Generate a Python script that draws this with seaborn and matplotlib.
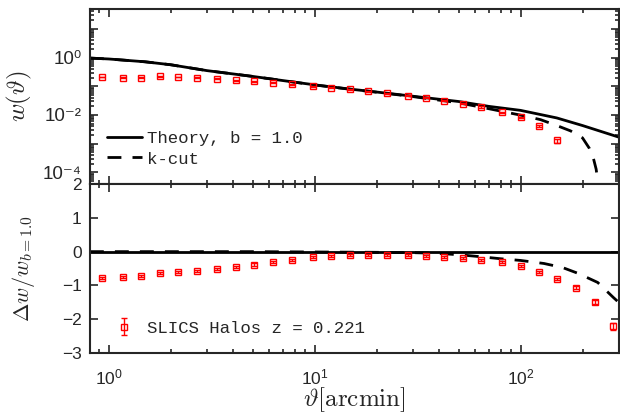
import numpy as np
import pandas as pd
import matplotlib
matplotlib.use("Agg")
import matplotlib.pyplot as plt
import seaborn as sns
from matplotlib.ticker import LogLocator, FuncFormatter, NullFormatter, FixedLocator

# ---------------- data ----------------
theta = [0.93, 1.17, 1.44, 1.78, 2.18, 2.68, 3.37, 4.16, 5.1, 6.3, 7.8, 9.8,
         12.0, 14.8, 18.2, 22.4, 28.3, 34.7, 42.7, 52.5, 64.6, 81.3, 100,
         123, 151, 186, 229, 282]
w_data = [0.21, 0.195, 0.195, 0.22, 0.21, 0.195, 0.18, 0.16, 0.148, 0.133,
          0.116, 0.101, 0.0885, 0.0776, 0.0676, 0.0575, 0.0464, 0.0397,
          0.0318, 0.0243, 0.019, 0.0124, 0.0083, 0.0042, 0.0013]
w_err = [0.008, 0.007, 0.007, 0.008, 0.008, 0.007, 0.007, 0.006, 0.005,
         0.005, 0.004, 0.004, 0.003, 0.003, 0.0025, 0.002, 0.0017, 0.0015,
         0.0012, 0.001, 0.0008, 0.0006, 0.0005, 0.0003, 0.0002]
ratio_data = [-0.78, -0.75, -0.72, -0.63, -0.60, -0.56, -0.50, -0.45, -0.38,
              -0.31, -0.245, -0.17, -0.14, -0.11, -0.11, -0.11, -0.11, -0.14,
              -0.17, -0.20, -0.255, -0.31, -0.43, -0.60, -0.80, -1.06, -1.50,
              -2.21]
ratio_err = [0.03, 0.03, 0.03, 0.03, 0.03, 0.03, 0.03, 0.03, 0.03, 0.03,
             0.03, 0.03, 0.03, 0.03, 0.03, 0.03, 0.03, 0.03, 0.03, 0.03,
             0.03, 0.03, 0.03, 0.03, 0.03, 0.04, 0.06, 0.09]

theory_x = [0.81, 1, 1.5, 2, 3, 5, 7, 10, 15, 20, 30, 50, 70, 100, 150, 200, 300]
theory_w = [0.955, 0.89, 0.71, 0.56, 0.35, 0.22, 0.158, 0.112, 0.079, 0.063,
            0.045, 0.0295, 0.020, 0.0145, 0.0079, 0.0043, 0.0017]

kcut_x = [0.81, 1, 1.5, 2, 3, 5, 7, 10, 15, 20, 30, 50, 70, 100, 125, 150,
          175, 187, 200, 216, 225, 233, 238]
kcut_w = [0.955, 0.89, 0.71, 0.56, 0.35, 0.22, 0.158, 0.111, 0.078, 0.062,
          0.0437, 0.0266, 0.0166, 0.0099, 0.0069, 0.0043, 0.0028, 0.00214,
          0.0016, 0.00069, 0.00035, 0.00013, 0.00004]

ratio_theory_x = [0.81, 300]
ratio_theory = [0.0, 0.0]
kcut_ratio_x = [0.81, 5, 10, 20, 30, 40, 52, 64, 80, 100, 130, 160, 190, 237, 282, 300]
kcut_ratio = [0, 0, -0.01, -0.02, -0.03, -0.05, -0.10, -0.15, -0.21, -0.26,
              -0.35, -0.47, -0.64, -0.91, -1.35, -1.5]

ytick_labels = {0: '10⁰', -2: '10⁻²', -4: '10⁻⁴'}

# ---------------- style ----------------
sns.set_theme(style="ticks")
plt.rcParams['font.family'] = ['Liberation Sans', 'DejaVu Sans']
plt.rcParams['mathtext.fontset'] = 'cm'

GRAY = '#262626'
RED = '#ff0000'
mono = {'family': 'Liberation Mono', 'size': 12.5}

fig = plt.figure(figsize=(6.2, 4.18), dpi=100)
ax1 = fig.add_axes([0.145, 0.56, 0.853, 0.418])
ax2 = fig.add_axes([0.145, 0.155, 0.853, 0.405], sharex=ax1)

# top panel
sns.lineplot(x=theory_x, y=theory_w, ax=ax1, color='black', lw=2,
             label='Theory, b = 1.0', zorder=2)
sns.lineplot(x=kcut_x, y=kcut_w, ax=ax1, color='black', lw=2,
             label='k-cut', zorder=2)
ax1.lines[1].set_dashes([5, 4])
ax1.errorbar(theta[:len(w_data)], w_data, yerr=w_err, fmt='s', ms=5,
             mfc='none', mec=RED, color=RED, ecolor=RED, elinewidth=1,
             capsize=2, mew=1, zorder=3)

# bottom panel
sns.lineplot(x=ratio_theory_x, y=ratio_theory, ax=ax2, color='black', lw=2,
             zorder=2)
sns.lineplot(x=kcut_ratio_x, y=kcut_ratio, ax=ax2, color='black', lw=2,
             zorder=2)
ax2.lines[1].set_dashes([5, 4])
ax2.errorbar(theta, ratio_data, yerr=ratio_err, fmt='s', ms=5,
             mfc='none', mec=RED, color=RED, ecolor=RED, elinewidth=1,
             capsize=2, mew=1, zorder=3, label='SLICS Halos z = 0.221')

ax1.set_xscale('log')
ax1.set_yscale('log')
ax1.set_xlim(0.81, 300)
ax1.set_ylim(4e-5, 48)
ax2.set_ylim(-3, 2)

def yfmt(v, pos):
    e = int(round(np.log10(v)))
    return ytick_labels.get(e, '')

ax1.yaxis.set_major_locator(LogLocator(base=10, numticks=20))
ax1.yaxis.set_major_formatter(FuncFormatter(yfmt))
ax1.yaxis.set_minor_locator(LogLocator(base=10, subs=np.arange(2, 10), numticks=20))
ax1.yaxis.set_minor_formatter(NullFormatter())
ax1.xaxis.set_major_locator(LogLocator(base=10, numticks=10))
ax1.xaxis.set_minor_locator(LogLocator(base=10, subs=np.arange(2, 10), numticks=10))
ax1.xaxis.set_minor_formatter(NullFormatter())
plt.setp(ax1.get_xticklabels(), visible=False)
ax2.yaxis.set_major_locator(FixedLocator([-3, -2, -1, 0, 1, 2]))

for ax in (ax1, ax2):
    ax.tick_params(which='both', direction='in', top=True, right=True,
                   colors=GRAY, labelcolor=GRAY, labelsize=12.5, width=1.2)
    ax.tick_params(which='major', length=6)
    ax.tick_params(which='minor', length=3)
    for s in ax.spines.values():
        s.set_color(GRAY)
        s.set_linewidth(1.5)
        s.set_visible(True)
ax2.tick_params(axis='x', which='major', pad=10)
ax2.tick_params(axis='y', which='major', pad=6)
ax1.tick_params(axis='y', which='major', pad=6, labelsize=13.5)

ax1.set_ylabel(r'$w(\vartheta)$', fontsize=18, color=GRAY, labelpad=6)
ax2.set_ylabel(r'$\Delta w/w_{b=1.0}$', fontsize=16, color=GRAY, labelpad=18)
ax2.set_xlabel(r'$\vartheta[\mathrm{arcmin}]$', fontsize=18, color=GRAY, labelpad=-1)
ax1.set_xlabel('')

ax1.legend(loc='lower left', frameon=False, prop=mono, handlelength=2.0,
           handletextpad=0.3, borderaxespad=0.6, labelspacing=0.3)
h, l = ax2.get_legend_handles_labels()
ax2.legend(h[-1:], l[-1:], loc='lower left', frameon=False, prop=mono,
           handlelength=1.9, handletextpad=0.4, borderaxespad=0.6)

fig.savefig('out.png', dpi=100)
